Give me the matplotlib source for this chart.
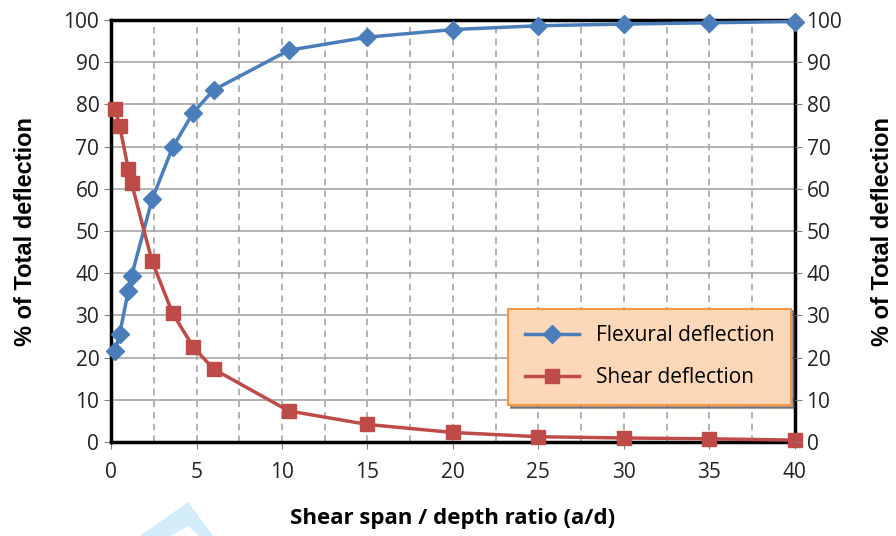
import matplotlib.pyplot as plt
from matplotlib.patches import Polygon

ratio = [0.25, 0.5, 1.0, 1.2, 2.4, 3.6, 4.8, 6.0, 10.4, 15, 20, 25, 30, 35, 40]
flexural = [21.5, 25.6, 35.7, 39.4, 57.5, 69.8, 78.0, 83.4, 92.8, 95.9, 97.7, 98.6, 99.0, 99.3, 99.6]
shear = [78.8, 74.9, 64.8, 61.3, 42.8, 30.5, 22.6, 17.3, 7.4, 4.2, 2.3, 1.3, 1.0, 0.8, 0.5]

plt.rcParams['font.family'] = ['Open Sans', 'DejaVu Sans']

fig = plt.figure(figsize=(8.96, 5.36), dpi=100)
ax = fig.add_axes([0.124, 0.175, 0.763, 0.788])

# watermark fragment
fig.patches.append(Polygon([[0.156, 0.0], [0.210, 0.0634], [0.238, 0.0]], closed=True,
                           transform=fig.transFigure, facecolor='#d3ecf9', edgecolor='none', zorder=0))
fig.patches.append(Polygon([[0.19, 0.0], [0.210, 0.0187], [0.222, 0.0]], closed=True,
                           transform=fig.transFigure, facecolor='white', edgecolor='none', zorder=0))

ax.plot(ratio, flexural, color='#4a7ebb', lw=2.5, marker='D', ms=9.5,
        label='Flexural deflection', zorder=3, clip_on=False)
ax.plot(ratio, shear, color='#be4b48', lw=2.5, marker='s', ms=10,
        label='Shear deflection', zorder=3, clip_on=False)

ax.set_xlim(0, 40)
ax.set_ylim(0, 100)
ax.xaxis.remove_overlapping_locs = False
ax.set_xticks(range(0, 41, 5))
ax.set_yticks(range(0, 101, 10))
ax.set_xticks([i * 2.5 for i in range(17)], minor=True)
ax.grid(axis='x', which='minor', color='#a6a6a6', ls=(0, (4, 3)), lw=1.2)
ax.grid(axis='y', which='major', color='#a6a6a6', ls='-', lw=1.2)
ax.set_axisbelow(True)
for s in ax.spines.values():
    s.set_linewidth(2.5)
    s.set_color('black')

ax.tick_params(axis='both', which='major', labelsize=15, direction='out', length=5,
               color='#808080', labelcolor='#222222')
ax.tick_params(axis='x', which='minor', length=0)
ax.tick_params(axis='x', pad=9)

ax.set_xlabel('Shear span / depth ratio (a/d)', fontsize=16, fontweight='bold', labelpad=18)
ax.set_ylabel('% of Total deflection', fontsize=17, fontweight='bold', labelpad=19,
              family='Liberation Sans')

ax2 = ax.twinx()
ax2.set_ylim(0, 100)
ax2.set_yticks(range(0, 101, 10))
ax2.tick_params(axis='y', labelsize=15, direction='out', length=5,
                color='#808080', labelcolor='#222222')
ax2.set_ylabel('% of Total deflection', fontsize=17, fontweight='bold', labelpad=21,
               family='Liberation Sans')
ax2.yaxis.label.set_rotation(90)
for s in ax2.spines.values():
    s.set_visible(False)

leg = ax.legend(loc='lower right', bbox_to_anchor=(1.01, 0.064), fontsize=15,
                frameon=True, fancybox=False, shadow=True, borderpad=0.8,
                labelspacing=1.0, handlelength=2.6, framealpha=1)
leg.get_frame().set_facecolor('#fcd8b8')
leg.get_frame().set_edgecolor('#f79646')
leg.get_frame().set_linewidth(1.5)

fig.savefig('out.png', dpi=100)
